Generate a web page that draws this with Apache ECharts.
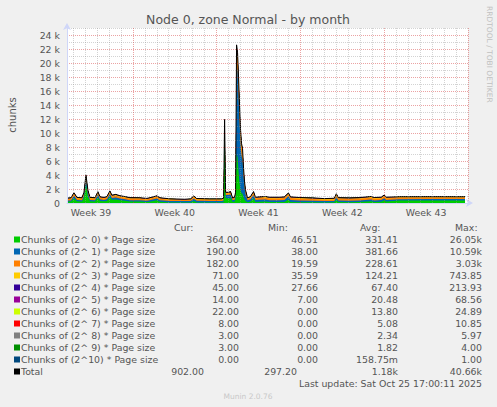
<!DOCTYPE html>
<html><head><meta charset="utf-8">
<script src="https://cdn.jsdelivr.net/npm/echarts@6/dist/echarts.min.js"></script>
<style>html,body{margin:0;padding:0;background:#F0F0F0;}#c{width:497px;height:407px;}</style>
</head><body><div id="c"></div>
<script>
// time in hours since the left edge of the graph (Tue Sep 23 12:00)
const times = [0,8,14,20,30,34,38,42,46,56,62,66,74,80,86,90,98,106,116,126,146,160,166,180,186,206,236,248,254,260,286,310,314,316,318,324,328,332,336,338,340,342,344,346,348,350,352,354,356,358,362,368,374,378,386,398,406,426,436,444,448,466,492,516,536,540,544,566,586,610,616,630,636,640,666,726,798];

const o0 = [180,200,650,240,210,700,2600,900,250,210, 780,300,250,300,850,450,500,380,320,220, 200,150,190,380,180,80,60,70,300,70, 60,60,110,9800,700,650,700,150,200,600, 7000,6500,4500,2800,1800,1400,1300,800,500,300, 120,200,650,150,170,200,140,140,160,500, 160,120,110,80,100,450,130,110,130,250, 140,180,380,200,350,360,364];
const o1 = [160,170,380,190,180,380,800,480,190,180, 420,220,190,230,420,260,300,250,220,180, 200,180,210,260,220,220,210,230,320,240, 230,230,260,1300,450,480,500,250,280,500, 12800,12300,10800,8800,6600,5300,4800,3000,1700,950, 260,330,500,280,290,300,270,260,280,450, 280,250,220,190,200,400,230,220,230,260, 230,240,300,230,200,200,190];
const o2 = [200,210,250,210,200,250,350,260,210,210, 240,220,210,220,260,230,240,230,220,210, 200,180,200,220,200,170,150,160,210,180, 170,170,180,500,220,230,250,180,190,250, 2000,1900,1900,1700,1500,1300,1200,850,550,380, 200,230,280,230,240,250,240,250,260,280, 260,240,230,200,210,270,230,230,240,250, 240,240,270,230,190,185,182];
const o3 = [80,85,90,80,80,90,140,90,80,80, 90,80,80,85,100,95,100,95,85,80, 75,75,75,80,75,60,55,65,90,75, 65,65,70,180,80,85,90,65,75,90, 500,480,450,400,350,300,300,220,150,110, 80,90,110,90,100,100,100,100,100,110, 100,95,95,85,90,110,100,95,95,95, 95,95,100,90,70,72,71];
const o4 = [40,45,45,40,40,45,60,40,40,40, 40,40,40,40,45,45,50,45,40,40, 40,40,40,40,40,35,35,35,40,40, 35,35,40,80,40,40,45,35,40,45, 180,170,160,140,120,110,110,80,60,50, 40,40,45,40,40,40,40,40,40,45, 40,40,40,35,40,45,40,40,40,40, 40,40,45,45,45,45,45];
const o5 = [18,18,20,18,18,20,30,22,18,18, 20,18,18,18,22,20,20,19,18,18, 18,17,18,20,18,16,15,16,20,17, 16,16,17,45,22,22,24,17,18,22, 68,64,58,50,42,36,34,28,24,20, 18,19,22,19,19,20,19,19,20,24, 20,19,19,18,18,23,19,19,19,20, 19,19,21,19,15,14,14];
const o6 = [12,12,13,12,12,13,18,14,12,12, 13,12,12,12,14,13,13,12,12,12, 12,11,12,13,12,10,10,10,13,11, 10,10,11,20,14,14,15,11,12,14, 24,23,22,20,18,16,15,14,13,12, 12,12,14,12,12,13,12,12,13,15, 13,12,12,11,12,14,12,12,12,13, 12,12,14,13,20,21,22];
const o7 = [4,4,5,4,4,5,7,5,4,4, 5,4,4,4,5,5,5,5,4,4, 4,4,4,5,4,3,3,3,5,4, 3,3,4,8,5,5,5,4,4,5, 10,10,9,8,7,6,6,5,5,4, 4,4,5,4,5,5,5,5,5,6, 5,5,5,4,5,6,5,5,5,5, 5,5,6,5,7,8,8];
const o8 = [2,2,2,2,2,2,4,2,2,2, 2,2,2,2,3,2,2,2,2,2, 2,2,2,2,2,1,1,1,2,2, 1,1,2,4,2,2,3,2,2,2, 6,5,5,4,4,3,3,3,2,2, 2,2,3,2,2,2,2,2,2,3, 2,2,2,2,2,3,2,2,2,2, 2,2,3,2,3,3,3];
const o9 = [2,2,2,2,2,2,3,2,2,2, 2,2,2,2,2,2,2,2,2,2, 2,1,2,2,2,1,1,1,2,1, 1,1,1,3,2,2,2,1,2,2, 4,4,3,3,3,2,2,2,2,2, 2,2,2,2,2,2,2,2,2,2, 2,2,2,1,2,2,2,2,2,2, 2,2,2,2,3,3,3];
const o10 = [0,0,0,0,0,0,1,0,0,0, 0,0,0,0,0,0,0,0,0,0, 0,0,0,0,0,0,0,0,0,0, 0,0,0,1,0,0,0,0,0,0, 1,1,1,1,0,0,0,0,0,0, 0,0,0,0,0,0,0,0,0,0, 0,0,0,0,0,0,0,0,0,0, 0,0,0,0,0,0,0];

const seriesValues = [o0,o1,o2,o3,o4,o5,o6,o7,o8,o9,o10];
const seriesNames = ['Chunks of (2^ 0) * Page size','Chunks of (2^ 1) * Page size','Chunks of (2^ 2) * Page size','Chunks of (2^ 3) * Page size','Chunks of (2^ 4) * Page size','Chunks of (2^ 5) * Page size','Chunks of (2^ 6) * Page size','Chunks of (2^ 7) * Page size','Chunks of (2^ 8) * Page size','Chunks of (2^ 9) * Page size','Chunks of (2^10) * Page size'];
const seriesColors = ['#00CC00','#0066B3','#FF8000','#FFCC00','#330099','#990099','#CCFF00','#FF0000','#808080','#008F00','#00487D'];
const curVals = ['364.00','190.00','182.00','71.00','45.00','14.00','22.00','8.00','3.00','3.00','0.00'];
const minVals = ['46.51','38.00','19.59','35.59','27.66','7.00','0.00','0.00','0.00','0.00','0.00'];
const avgVals = ['331.41','381.66','228.61','124.21','67.40','20.48','13.80','5.08','2.34','1.82','158.75m'];
const maxVals = ['26.05k','10.59k','3.03k','743.85','213.93','68.56','24.89','10.85','5.97','4.00','1.00'];
const totalStats = ['902.00','297.20','1.18k','40.66k'];
const weekCenters = [48,216,384,552,720];
const weekLabels = ['Week 39','Week 40','Week 41','Week 42','Week 43'];
const titleText = 'Node 0, zone Normal - by month';
const yName = 'chunks';
const lastUpdate = 'Last update: Sat Oct 25 17:00:11 2025';

const FONT = 'DejaVu Sans';
const TXT = '#555555';
const GRID_GREY = 'rgba(150,150,150,0.42)';
const GRID_RED = 'rgba(210,50,50,0.45)';

// cumulative (stacked) sums, built from the series arrays
const cumulative = [];
seriesValues.forEach((vals, si) => {
  cumulative.push(vals.map((v, i) => v + (si > 0 ? cumulative[si - 1][i] : 0)));
});
const totals = cumulative[cumulative.length - 1];

// x split line colours: every 12 h; midnights grey, Monday midnight red, noons hidden
const xColors = [];
for (let k = 0; k < 14; k++) xColors.push(k === 11 ? GRID_RED : (k % 2 === 1 ? GRID_GREY : 'rgba(0,0,0,0)'));

const series = [];
for (let si = seriesValues.length - 1; si >= 0; si--) {
  series.push({
    name: seriesNames[si], type: 'line',
    data: times.map((t, i) => [t, cumulative[si][i]]),
    symbol: 'none', showSymbol: false, lineStyle: { width: 0 },
    areaStyle: { color: seriesColors[si], opacity: 1, origin: 'start' }, itemStyle: { color: seriesColors[si] },
    silent: true, z: 2
  });
}
series.push({
  name: 'Total', type: 'line', data: times.map((t, i) => [t, totals[i]]),
  symbol: 'none', showSymbol: false, lineStyle: { color: '#000', width: 1 }, silent: true, z: 3
});

const g = [];
const text = (x, y, str, align, extra) => Object.assign({
  type: 'text', x: x, y: y, silent: true,
  style: { text: str, fill: TXT, fontFamily: FONT, fontSize: 9.4, align: align, verticalAlign: 'middle' }
}, extra || {});
const rowY0 = 239.5, rowH = 12;
g.push(text(174, 227, 'Cur:', 'left'));
g.push(text(268, 227, 'Min:', 'left'));
g.push(text(360, 227, 'Avg:', 'left'));
g.push(text(455, 227, 'Max:', 'left'));
seriesNames.forEach((n, i) => {
  const y = rowY0 + i * rowH;
  g.push({ type: 'rect', silent: true, shape: { x: 14, y: y - 3, width: 6, height: 6 }, style: { fill: seriesColors[i] } });
  g.push(text(21, y, n, 'left'));
  g.push(text(239, y, curVals[i], 'right'));
  g.push(text(318, y, minVals[i], 'right'));
  g.push(text(398, y, avgVals[i], 'right'));
  g.push(text(482, y, maxVals[i], 'right'));
});
const ty = rowY0 + 11 * rowH;
g.push({ type: 'rect', silent: true, shape: { x: 14, y: ty - 3, width: 6, height: 6 }, style: { fill: '#000' } });
g.push(text(21, ty, 'Total', 'left'));
g.push(text(204, ty, totalStats[0], 'right'));
g.push(text(297, ty, totalStats[1], 'right'));
g.push(text(398, ty, totalStats[2], 'right'));
g.push(text(482, ty, totalStats[3], 'right'));
g.push(text(482, 383.5, lastUpdate, 'right'));
g.push(text(248, 396, 'Munin 2.0.76', 'center', {}));
g[g.length - 1].style.fill = '#c8c8c8'; g[g.length - 1].style.fontSize = 7.5;
g.push(text(248, 19, titleText, 'center'));
g[g.length - 1].style.fontSize = 12.5;
g.push(text(12, 115, yName, 'center', { rotation: Math.PI / 2 }));
g[g.length - 1].style.fontSize = 10;
g.push(text(489, 6, 'RRDTOOL / TOBI OETIKER', 'left', { rotation: -Math.PI / 2 }));
g[g.length - 1].style.fill = '#c0c0c0'; g[g.length - 1].style.fontSize = 7.5;

const chart = echarts.init(document.getElementById('c'), null, { renderer: 'svg', width: 497, height: 407 });
chart.setOption({
  animation: false,
  backgroundColor: '#F0F0F0',
  grid: { left: 67, right: 29, top: 28, bottom: 204, show: true, backgroundColor: '#FFFFFF', borderWidth: 0 },
  xAxis: {
    type: 'value', min: 0, max: 804, interval: 12, z: 4,
    axisLine: { show: true, lineStyle: { color: '#CFD6F8', width: 1 }, symbol: ['none', 'arrow'], symbolSize: [6, 7], symbolOffset: [0, 5] },
    axisTick: { show: false },
    axisLabel: {
      color: TXT, fontFamily: FONT, fontSize: 9.4, margin: 5,
      formatter: v => { const i = weekCenters.indexOf(v); return i >= 0 ? weekLabels[i] : ''; }
    },
    splitLine: { show: true, lineStyle: { color: xColors, width: 1, type: [1, 1] } }
  },
  yAxis: {
    type: 'value', min: 0, max: 25000, interval: 1000, z: 4,
    axisLine: { show: true, lineStyle: { color: '#CFD6F8', width: 1 }, symbol: ['none', 'arrow'], symbolSize: [6, 7], symbolOffset: [0, 5] },
    axisTick: { show: false },
    axisLabel: {
      color: TXT, fontFamily: FONT, fontSize: 9.4, margin: 7,
      formatter: v => (v % 2000 === 0 && v <= 24000) ? (v === 0 ? '0' : (v / 1000) + ' k') : ''
    },
    splitLine: { show: true, lineStyle: { color: [GRID_RED, GRID_GREY], width: 1, type: [1, 1] } }
  },
  graphic: g,
  series: series
});
</script></body></html>
